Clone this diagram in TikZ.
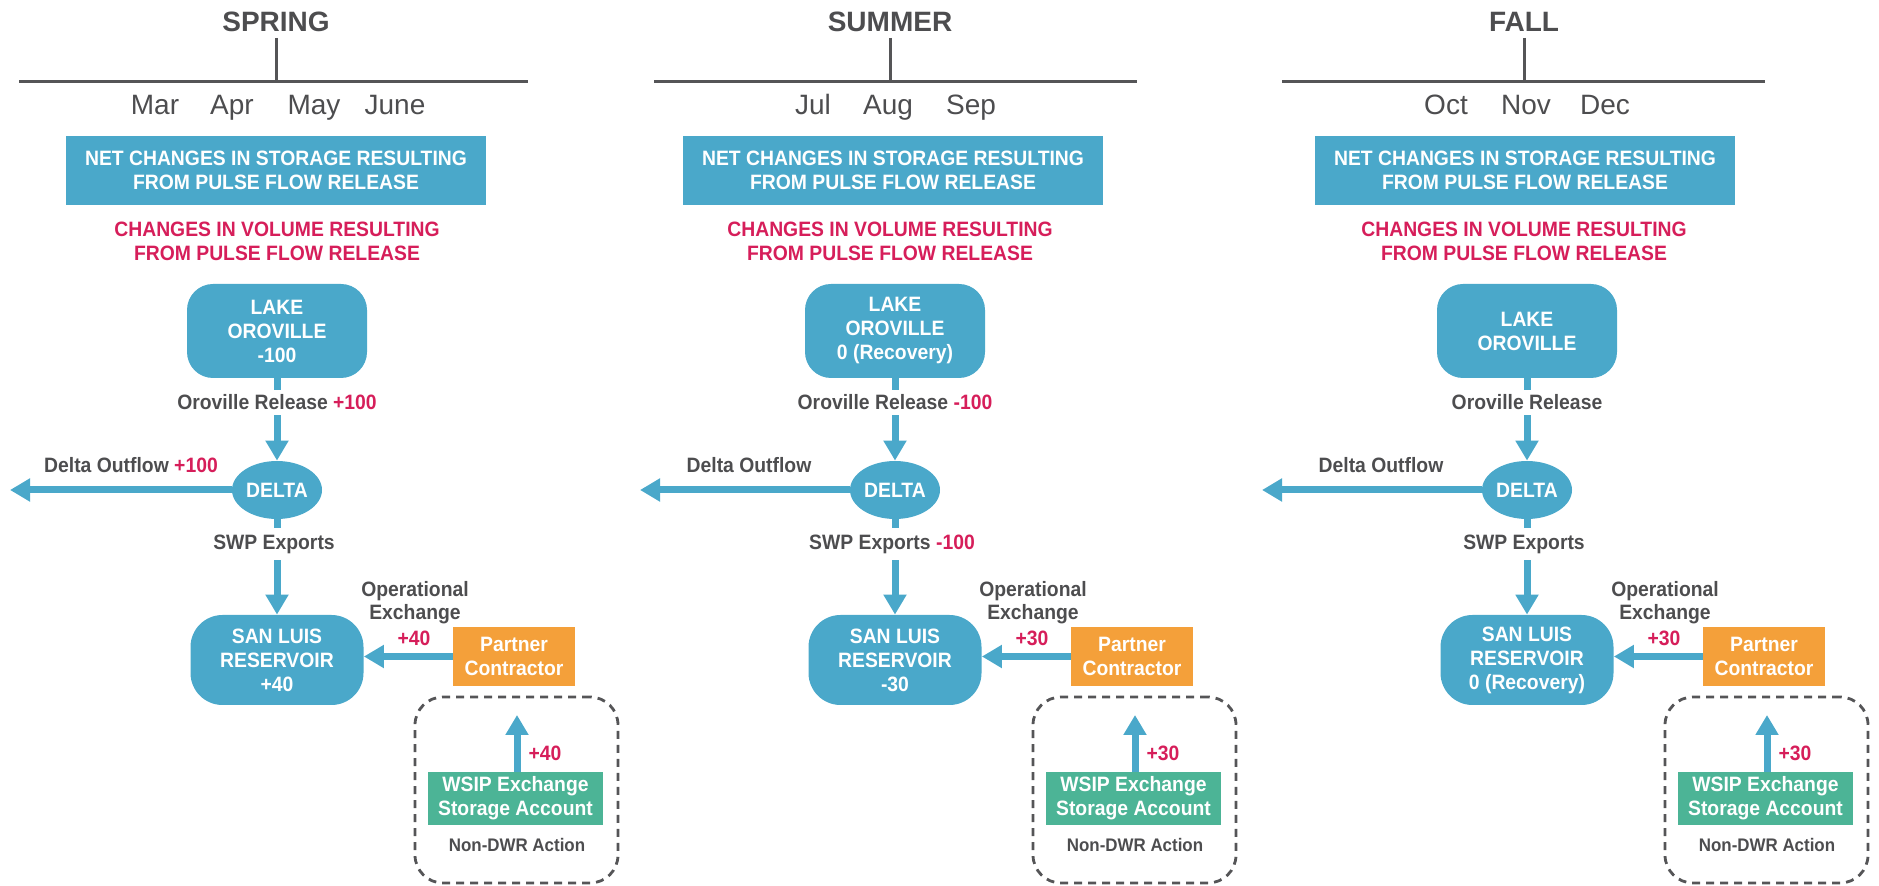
\documentclass[tikz,border=0pt]{standalone}
\usepackage{fontspec}
\setmainfont{Liberation Sans}
\newfontfamily\condfont[FakeStretch=0.93]{Liberation Sans}
\usetikzlibrary{arrows.meta,shapes.geometric}
\definecolor{bl}{RGB}{74,168,202}
\definecolor{orng}{RGB}{244,160,58}
\definecolor{grn}{RGB}{76,180,150}
\definecolor{pk}{RGB}{214,30,90}
\definecolor{tg}{RGB}{77,77,79}
\definecolor{lg}{RGB}{85,85,87}
\tikzset{
  base/.style={font=\condfont\fontsize{10.4}{12}\selectfont\bfseries},
  lakebox/.style={base, fill=bl, text=white, rounded corners=13pt, minimum width=90pt, minimum height=47pt, align=center, inner sep=0pt},
  slbox/.style={base, fill=bl, text=white, rounded corners=16pt, minimum width=86.5pt, minimum height=45pt, align=center, inner sep=0pt},
  ellbox/.style={base, ellipse, fill=bl, text=white, minimum width=45pt, minimum height=29pt, inner sep=0pt},
  partbox/.style={base, fill=orng, text=white, minimum width=61pt, minimum height=29.5pt, align=center, inner sep=0pt},
  wsbox/.style={base, fill=grn, text=white, minimum width=87.5pt, minimum height=26.5pt, align=center, inner sep=0pt},
  dashbox/.style={draw=lg, line width=1.4pt, dash pattern=on 4pt off 3pt, rounded corners=14pt, minimum width=101.5pt, minimum height=93pt, inner sep=0pt},
  lbl/.style={base, text=tg, align=center, inner sep=0pt},
  pklbl/.style={base, text=pk, align=center, inner sep=0pt},
  smalllbl/.style={font=\condfont\fontsize{9.1}{10}\selectfont\bfseries, text=tg, inner sep=0pt},
  flow/.style={draw=bl, line width=3.5pt, -{Triangle[width=11pt,length=10pt]}},
  stub/.style={draw=bl, line width=3.5pt},
  title/.style={font=\fontsize{14}{16}\selectfont\bfseries, text=tg, inner sep=0pt},
  month/.style={font=\fontsize{14}{16}\selectfont, text=tg, inner sep=0pt, anchor=base},
  tline/.style={draw=lg, line width=1.5pt},
  hdr/.style={base, fill=bl, text=white, minimum width=210pt, minimum height=34.5pt, align=center, inner sep=0pt},
}
\newcommand{\flowpanel}[9]{%
  \node[lakebox] (#2lake) at (#1,331) {#3};
  \node[lbl, minimum height=12.5pt] (#2rel) at (#1,402.5) {#4};
  \node[ellbox] (#2delta) at (#1,490) {DELTA};
  \coordinate (#2out) at ({#1-#9},490);
  \node[lbl] (#2outl) at ({#1-146},465) {#5};
  \node[lbl, minimum height=16pt] (#2swp) at ({#1-3},544) {#6};
  \node[slbox] (#2sl) at (#1,660) {#7};
  \node[partbox] (#2part) at ({#1+237},656.5) {Partner\\Contractor};
  \node[lbl, font=\condfont\fontsize{10.4}{11.5}\selectfont\bfseries] (#2opex) at ({#1+138},602.5) {Operational\\Exchange};
  \node[pklbl] (#2opv) at ({#1+137},638) {#8};
  \node[dashbox] (#2dash) at ({#1+239.5},790) {};
  \node[wsbox] (#2ws) at ({#1+238.5},798.5) {WSIP Exchange\\Storage Account};
  \coordinate (#2up) at ({#1+240},715);
  \node[pklbl] (#2upv) at ({#1+268},753) {#8};
  \node[smalllbl] (#2ndwr) at ({#1+240},845) {Non-DWR Action};
  \draw[stub] (#2lake.south) -- (#2rel.north -| #2lake.south);
  \draw[flow] (#2rel.south -| #2lake.south) -- (#2delta.north);
  \draw[flow] (#2delta.west) -- (#2out);
  \draw[stub] (#2delta.south) -- (#2swp.north -| #2delta.south);
  \draw[flow] (#2swp.south -| #2delta.south) -- (#2sl.north);
  \draw[flow] (#2part.west) -- (#2part.west -| #2sl.east);
  \draw[flow] (#2ws.north -| #2up) -- (#2up);
}
\begin{document}
\begin{tikzpicture}[x=0.5pt,y=-0.5pt]
\useasboundingbox (0,0) rectangle (1879,886);
% ---------- headers ----------
% spring
\node[title] (t1) at (276,22) {SPRING};
\coordinate (t1a) at (276,38); \coordinate (t1b) at (276,82);
\coordinate (l1a) at (19,82); \coordinate (l1b) at (528,82);
\draw[tline] (t1a) -- (t1b); \draw[tline] (l1a) -- (l1b);
\node[month] (m11) at (155,115) {Mar};
\node[month] (m12) at (232,115) {Apr};
\node[month] (m13) at (314,115) {May};
\node[month] (m14) at (395,115) {June};
\node[hdr] (h1) at (276,170.5) {NET CHANGES IN STORAGE RESULTING\\FROM PULSE FLOW RELEASE};
\node[pklbl] (pk1) at (277,241) {CHANGES IN VOLUME RESULTING\\FROM PULSE FLOW RELEASE};
% summer
\node[title] (t2) at (890,22) {SUMMER};
\coordinate (t2a) at (890,38); \coordinate (t2b) at (890,82);
\coordinate (l2a) at (654,82); \coordinate (l2b) at (1137,82);
\draw[tline] (t2a) -- (t2b); \draw[tline] (l2a) -- (l2b);
\node[month] (m21) at (813,115) {Jul};
\node[month] (m22) at (888,115) {Aug};
\node[month] (m23) at (971,115) {Sep};
\node[hdr] (h2) at (893,170.5) {NET CHANGES IN STORAGE RESULTING\\FROM PULSE FLOW RELEASE};
\node[pklbl] (pk2) at (890,241) {CHANGES IN VOLUME RESULTING\\FROM PULSE FLOW RELEASE};
% fall
\node[title] (t3) at (1524,22) {FALL};
\coordinate (t3a) at (1524,38); \coordinate (t3b) at (1524,82);
\coordinate (l3a) at (1282,82); \coordinate (l3b) at (1765,82);
\draw[tline] (t3a) -- (t3b); \draw[tline] (l3a) -- (l3b);
\node[month] (m31) at (1446,115) {Oct};
\node[month] (m32) at (1526,115) {Nov};
\node[month] (m33) at (1605,115) {Dec};
\node[hdr] (h3) at (1525,170.5) {NET CHANGES IN STORAGE RESULTING\\FROM PULSE FLOW RELEASE};
\node[pklbl] (pk3) at (1524,241) {CHANGES IN VOLUME RESULTING\\FROM PULSE FLOW RELEASE};
% ---------- flows ----------
\flowpanel{277}{a}{LAKE\\OROVILLE\\-100}{Oroville Release \textcolor{pk}{+100}}{Delta Outflow \textcolor{pk}{+100}}{SWP Exports}{SAN LUIS\\RESERVOIR\\+40}{+40}{267}
\flowpanel{895}{b}{LAKE\\OROVILLE\\0 (Recovery)}{Oroville Release \textcolor{pk}{-100}}{Delta Outflow}{SWP Exports \textcolor{pk}{-100}}{SAN LUIS\\RESERVOIR\\-30}{+30}{255}
\flowpanel{1527}{c}{LAKE\\OROVILLE}{Oroville Release}{Delta Outflow}{SWP Exports}{SAN LUIS\\RESERVOIR\\0 (Recovery)}{+30}{265}
\end{tikzpicture}
\end{document}
